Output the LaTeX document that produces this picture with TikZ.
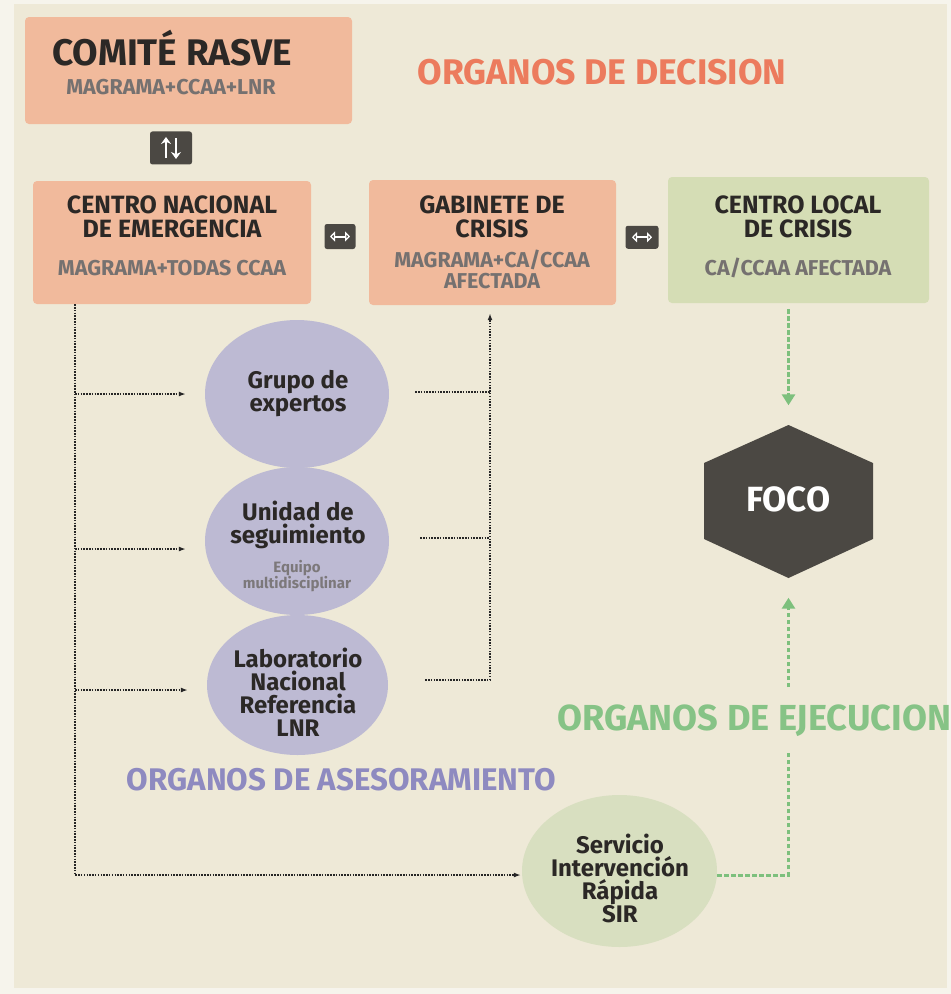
\documentclass[tikz,border=0pt]{standalone}
\usepackage{fontspec}
\setmainfont{Fira Sans}
\usetikzlibrary{arrows.meta,shapes.geometric}
\definecolor{bgout}{HTML}{F6F4EC}
\definecolor{bgin}{HTML}{EEE9D7}
\definecolor{salmon}{HTML}{F1BA9C}
\definecolor{clgreen}{HTML}{D5DDB5}
\definecolor{lav}{HTML}{BDBAD3}
\definecolor{sirgreen}{HTML}{D8DFC0}
\definecolor{darkg}{HTML}{4B4843}
\definecolor{txtd}{HTML}{2B2826}
\definecolor{subg}{HTML}{757170}
\definecolor{orgor}{HTML}{EC7B5D}
\definecolor{orgpu}{HTML}{8E8AC0}
\definecolor{orggr}{HTML}{86C386}
\definecolor{arrgr}{HTML}{7DC07D}
\newcommand{\fitw}[2]{\resizebox{#1}{!}{#2}}
\begin{document}
\begin{tikzpicture}[x=1pt,y=-1pt,
  salmonbox/.style={fill=salmon, rounded corners=4pt, inner sep=0pt, draw=none},
  greenbox/.style={fill=clgreen, rounded corners=4pt, inner sep=0pt, draw=none},
  iconbox/.style={fill=darkg, rounded corners=2.5pt, inner sep=0pt},
  bigtitle/.style={font=\bfseries\fontsize{37}{40}\selectfont, text=txtd, inner sep=0pt},
  boxtitle/.style={font=\bfseries\fontsize{25}{24}\selectfont, text=txtd, align=center, inner sep=0pt},
  boxsub/.style={font=\bfseries\fontsize{21.5}{21.5}\selectfont, text=subg, align=center, inner sep=0pt},
  orgtitle/.style={font=\bfseries\fontsize{30}{32}\selectfont, inner sep=0pt},
  ovaltxt/.style={font=\bfseries\fontsize{24}{23}\selectfont, text=txtd, align=center, inner sep=0pt},
  smalltxt/.style={font=\bfseries\fontsize{15}{15}\selectfont, text=subg!90!lav, align=center, inner sep=0pt},
  oval/.style={ellipse, inner sep=0pt},
  dotl/.style={line width=1.5pt, black!85, dash pattern=on 1.5pt off 1.3pt},
  dotarrow/.style={dotl, -{Latex[length=7pt,width=5pt]}},
  gdash/.style={line width=3pt, arrgr, dash pattern=on 4.5pt off 2.5pt},
  garrow/.style={gdash, -{Triangle[length=11pt,width=13pt]}},
  iconarrow/.style={white, line width=2.4pt},
  lrarrow/.style={white, line width=2pt, {Triangle[open,length=5pt,width=10pt,line width=1.6pt]}-{Triangle[open,length=5pt,width=10pt,line width=1.6pt]}}
]
\useasboundingbox (0,0) rectangle (951,994);
\fill[bgout] (0,0) rectangle (951,994);
\fill[bgin] (14,4) rectangle (947,988);

% boxes
\node[salmonbox, minimum width=327, minimum height=107] (comite) at (188.5,70.5) {};
\node[salmonbox, minimum width=278, minimum height=123] (cne) at (172,242.5) {};
\node[salmonbox, minimum width=247, minimum height=125] (gab) at (492.5,242.5) {};
\node[greenbox, minimum width=261, minimum height=126] (cl) at (798.5,240) {};

\node[bigtitle] (comiteT) at (172,48) {COMITÉ RASVE};
\node[boxsub] (comiteS) at (171,87) {MAGRAMA+CCAA+LNR};
\node[boxtitle] (cneT) at (172,217) {CENTRO NACIONAL\\DE EMERGENCIA};
\node[boxsub] (cneS) at (172,268) {MAGRAMA+TODAS CCAA};
\node[boxtitle] (gabT) at (492,216.5) {GABINETE DE\\CRISIS};
\node[boxsub] (gabS) at (492,269.5) {MAGRAMA+CA/CCAA\\AFECTADA};
\node[boxtitle] (clT) at (798,216.5) {CENTRO LOCAL\\DE CRISIS};
\node[boxsub] (clS) at (798,268) {CA/CCAA AFECTADA};

\node[orgtitle, text=orgor] (decision) at (602,72) {\fitw{369pt}{ORGANOS DE DECISION}};

% icons on links between boxes
\path (cne.north -| 171,0) -- (comite.south -| 171,0)
  node[iconbox, minimum width=42, minimum height=33, pos=0.58] (iud) {};
\draw[iconarrow, -{Stealth[length=7pt,width=10pt]}] ([xshift=-5pt,yshift=-10pt]iud.center) -- ([xshift=-5pt,yshift=11pt]iud.center);
\draw[iconarrow, -{Stealth[length=7pt,width=10pt]}] ([xshift=5pt,yshift=10pt]iud.center) -- ([xshift=5pt,yshift=-11pt]iud.center);
\path (cne.east) -- (gab.west)
  node[iconbox, minimum width=31, minimum height=25, midway, yshift=6pt] (ilr1) {};
\draw[lrarrow] ([xshift=-10pt]ilr1.center) -- ([xshift=10pt]ilr1.center);
\path (gab.east) -- (cl.west)
  node[iconbox, minimum width=33, minimum height=23, midway, yshift=4pt] (ilr2) {};
\draw[lrarrow] ([xshift=-10pt]ilr2.center) -- ([xshift=10pt]ilr2.center);

% advisory ovals
\node[oval, fill=lav, minimum width=184, minimum height=148] (grupo) at (297,394) {};
\node[oval, fill=lav, minimum width=184, minimum height=148] (unidad) at (297,541) {};
\node[oval, fill=lav, minimum width=181, minimum height=140] (lab) at (297.5,685) {};
\node[ovaltxt] (grupoT) at (298,394) {Grupo de\\expertos};
\node[ovaltxt] (unidadT) at (298,525) {Unidad de\\seguimiento};
\node[smalltxt] (unidadS) at (297,576) {Equipo\\multidisciplinar};
\node[ovaltxt] (labT) at (298,692) {Laboratorio\\Nacional\\Referencia\\LNR};

\node[orgtitle, text=orgpu] (asesor) at (341.5,780) {\fitw{429pt}{ORGANOS DE ASESORAMIENTO}};

% SIR
\node[oval, fill=sirgreen, minimum width=195, minimum height=152] (sir) at (619.5,871) {};
\node[ovaltxt] (sirT) at (620,878) {Servicio\\Intervención\\Rápida\\SIR};

% FOCO
\fill[darkg] (788.5,425) -- (873,463) -- (873,539) -- (788.5,578) -- (704,539) -- (704,463) -- cycle;
\node[minimum width=169, minimum height=153, inner sep=0pt, font=\bfseries\fontsize{35}{36}\selectfont, text=white] (foco) at (788.5,499) {FOCO};

\node[orgtitle, text=orggr, anchor=west] (ejec) at (557,721) {\fitw{394pt}{ORGANOS DE EJECUCION}};

% dotted connectors
\coordinate (vl) at (75,875);
\coordinate (rx) at (490,392);
\draw[dotarrow] (cne.south -| vl) -- (vl) -- ([xshift=-1pt]vl -| sir.west);
\draw[dotarrow] (vl |- grupo) -- ([xshift=-19pt]grupo.west);
\draw[dotarrow] (75,549) -- ([xshift=-19pt,yshift=-8pt]unidad.west);
\draw[dotarrow] (75,690) -- ([xshift=-19pt,yshift=-5pt]lab.west);
\draw[dotl] ([xshift=26pt,yshift=2pt]grupo.east) -- ([yshift=2pt]grupo.east -| rx);
\draw[dotl] ([xshift=31pt,yshift=3pt]unidad.east) -- ([yshift=3pt]unidad.east -| rx);
\draw[dotl] ([xshift=37pt,yshift=5pt]lab.east) -- ([yshift=5pt]lab.east -| rx);
\draw[dotarrow, shorten >=8pt] ([yshift=5pt]lab.east -| rx) -- (gab.south -| rx);

% green connectors
\coordinate (g1) at (788.5,752);
\coordinate (g2) at (788.5,687);
\draw[garrow, shorten <=6pt, shorten >=17pt] (cl.south -| foco) -- (foco.north);
\draw[gdash] ([yshift=-4pt]sir.east) -- ([yshift=-4pt]sir.east -| foco) -- (g1);
\draw[garrow, shorten >=22pt] (g2) -- (foco.south);
\end{tikzpicture}
\end{document}
